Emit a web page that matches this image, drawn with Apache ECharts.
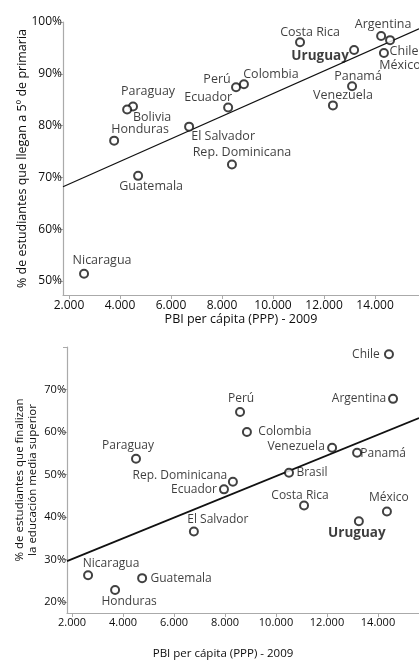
<!DOCTYPE html>
<html><head><meta charset="utf-8">
<script src="https://cdn.jsdelivr.net/npm/echarts@6/dist/echarts.min.js"></script>
<style>html,body{margin:0;padding:0;background:#fff}#c{width:419px;height:661px}</style>
</head><body><div id="c"></div>
<script>
// ---- Data: chart 1 (llegan a 5º de primaria) ----
const countries1 = ['Nicaragua','Guatemala','Honduras','Paraguay','Bolivia','El Salvador','Rep. Dominicana','Ecuador','Perú','Colombia','Costa Rica','Uruguay','Argentina','Chile','México','Panamá','Venezuela'];
const gdp1 = [2590,4710,3770,4510,4280,6710,8390,8240,8550,8860,11060,13180,14240,14590,14350,13100,12350];
const primaria5 = [51.4,70.3,77.1,83.7,83.1,79.8,72.5,83.5,87.4,88.0,96.1,94.6,97.3,96.5,94.0,87.6,83.9];
const trend1X = [1765,15725];
const trend1Y = [68.2,98.7];

// ---- Data: chart 2 (finalizan educación media superior) ----
const countries2 = ['Chile','Argentina','Perú','Colombia','Venezuela','Panamá','Brasil','Rep. Dominicana','Ecuador','Costa Rica','México','Uruguay','El Salvador','Paraguay','Nicaragua','Guatemala','Honduras'];
const gdp2 = [14430,14590,8590,8860,12200,13180,10510,8310,7960,11100,14350,13250,6780,4510,2630,4750,3690];
const mediaSuperior = [78.3,67.8,64.7,60.0,56.3,55.1,50.4,48.3,46.5,42.7,41.3,39.0,36.6,53.7,26.3,25.6,22.8];
const trend2X = [1804,15608];
const trend2Y = [29.6,63.3];

// ---- Tick labels ----
const xTicks = [2000,4000,6000,8000,10000,12000,14000];
const yTicks1 = [50,60,70,80,90,100];
const yTicks2 = [20,30,40,50,60,70,80];
const yLabels2 = [20,30,40,50,60,70];

const xTitle = 'PBI per cápita (PPP) - 2009';
const yTitle1 = '% de estudiantes que llegan a 5º de primaria';
const yTitle2 = '% de estudiantes que finalizan\nla educación media superior';

// ---- label placement (style) ----
const off1 = {'Nicaragua':[18,-13],'Guatemala':[13,11],'Honduras':[26,-11],'Paraguay':[15,-15],'Bolivia':[25,8],
  'El Salvador':[34,10],'Rep. Dominicana':[10,-12],'Ecuador':[-20,-10],'Perú':[-19,-8],'Colombia':[27,-10],
  'Costa Rica':[10,-10],'Uruguay':[-34,6],'Argentina':[2,-12],'Chile':[14,11],'México':[16,12],'Panamá':[6,-10],'Venezuela':[10,-10]};
const off2 = {'Chile':[-23,0],'Argentina':[-34,0],'Perú':[1,-13],'Colombia':[38,0],'Venezuela':[-36,-1],'Panamá':[26,1],
  'Brasil':[23,0],'Rep. Dominicana':[-53,-6],'Ecuador':[-30,0],'Costa Rica':[-4,-10],'México':[2,-14],'Uruguay':[-2,12],
  'El Salvador':[24,-12],'Paraguay':[-8,-13],'Nicaragua':[23,-12],'Guatemala':[39,0],'Honduras':[14,12]};

const FONT = 'Open Sans';
const TXT = '#0d0d0d';
const fmtX = v => String(v).replace(/\B(?=(\d{3})+(?!\d))/g, '.');

function pts(names, xs, ys, offs, fs) {
  return names.map((n, i) => {
    const bold = n === 'Uruguay';
    return {
      name: n, value: [xs[i], ys[i]],
      label: { offset: offs[n], fontWeight: bold ? 'bold' : 'normal', fontSize: bold ? 13.5 : fs, color: TXT }
    };
  });
}

const axisLineStyle = { show: true, lineStyle: { color: '#aaa', width: 1.2 } };
const tickStyle = { show: true, length: 4, lineStyle: { color: '#aaa' } };

const chart = echarts.init(document.getElementById('c'), null, { renderer: 'canvas' });
chart.setOption({
  animation: false,
  backgroundColor: '#fff',
  textStyle: { fontFamily: FONT },
  grid: [
    { left: 63, top: 22, width: 356, height: 273 },
    { left: 67, top: 347, width: 352, height: 266 }
  ],
  xAxis: [
    { gridIndex: 0, type: 'value', min: 1765, max: 15725, splitLine: { show: false },
      axisLine: axisLineStyle, axisTick: Object.assign({ customValues: xTicks }, tickStyle),
      axisLabel: { customValues: xTicks, formatter: fmtX, color: TXT, fontSize: 12, margin: 5, fontFamily: FONT },
      name: xTitle, nameLocation: 'middle', nameGap: 18, nameMoveOverlap: false,
      nameTextStyle: { color: TXT, fontSize: 12.5, fontFamily: FONT } },
    { gridIndex: 1, type: 'value', min: 1804, max: 15608, splitLine: { show: false },
      axisLine: axisLineStyle, axisTick: Object.assign({ customValues: xTicks }, tickStyle),
      axisLabel: { customValues: xTicks, formatter: fmtX, color: TXT, fontSize: 11, margin: 4, fontFamily: FONT },
      name: xTitle, nameLocation: 'middle', nameGap: 35, nameMoveOverlap: false,
      nameTextStyle: { color: TXT, fontSize: 11.5, fontFamily: FONT, padding: [0, 40, 0, 0] } }
  ],
  yAxis: [
    { gridIndex: 0, type: 'value', min: 47.3, max: 100, splitLine: { show: false },
      axisLine: axisLineStyle, axisTick: Object.assign({ customValues: yTicks1 }, tickStyle),
      axisLabel: { customValues: yTicks1, formatter: v => v + '%', color: TXT, fontSize: 12, margin: 1, fontFamily: FONT },
      name: yTitle1, nameLocation: 'middle', nameGap: 34, nameRotate: 90, nameMoveOverlap: false,
      nameTextStyle: { color: TXT, fontSize: 12.5, fontFamily: FONT } },
    { gridIndex: 1, type: 'value', min: 17.4, max: 80, splitLine: { show: false },
      axisLine: axisLineStyle, axisTick: Object.assign({ customValues: yTicks2 }, tickStyle),
      axisLabel: { customValues: yLabels2, formatter: v => v + '%', color: TXT, fontSize: 11, margin: 1, fontFamily: FONT },
      name: yTitle2, nameLocation: 'middle', nameGap: 28, nameRotate: 90, nameMoveOverlap: false,
      nameTextStyle: { color: TXT, fontSize: 11.5, lineHeight: 13, fontFamily: FONT } }
  ],
  series: [
    { type: 'line', xAxisIndex: 0, yAxisIndex: 0, showSymbol: false, z: 1, silent: true,
      data: trend1X.map((x, i) => [x, trend1Y[i]]), lineStyle: { color: '#111', width: 1.2 } },
    { type: 'scatter', xAxisIndex: 0, yAxisIndex: 0, z: 3, symbol: 'circle', symbolSize: 8,
      itemStyle: { color: '#fff', borderColor: '#111', borderWidth: 2 },
      label: { show: true, position: 'inside', formatter: '{b}', color: TXT, fontSize: 12.5, fontFamily: FONT, align: 'center', verticalAlign: 'middle' },
      data: pts(countries1, gdp1, primaria5, off1, 12.5) },
    { type: 'line', xAxisIndex: 1, yAxisIndex: 1, showSymbol: false, z: 1, silent: true,
      data: trend2X.map((x, i) => [x, trend2Y[i]]), lineStyle: { color: '#111', width: 1.8 } },
    { type: 'scatter', xAxisIndex: 1, yAxisIndex: 1, z: 3, symbol: 'circle', symbolSize: 8,
      itemStyle: { color: '#fff', borderColor: '#111', borderWidth: 2 },
      label: { show: true, position: 'inside', formatter: '{b}', color: TXT, fontSize: 12, fontFamily: FONT, align: 'center', verticalAlign: 'middle' },
      data: pts(countries2, gdp2, mediaSuperior, off2, 12) }
  ]
});
</script>
</body></html>
